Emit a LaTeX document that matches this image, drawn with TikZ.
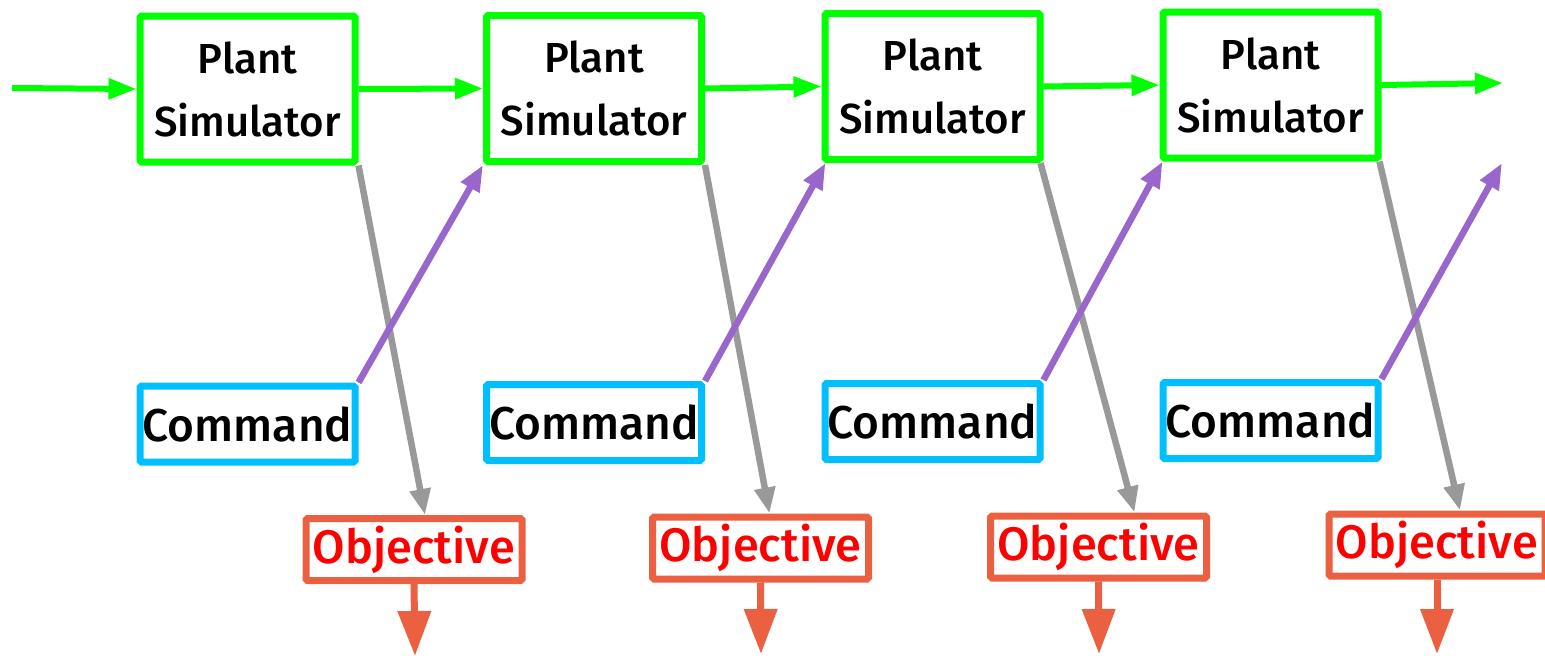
\documentclass[tikz,border=0pt]{standalone}
\usepackage{fontspec}
\setmainfont{Fira Sans}[UprightFont={* Medium}]
\usetikzlibrary{arrows.meta,calc}
\definecolor{pgreen}{HTML}{00FF00}
\definecolor{cblue}{HTML}{00BFFF}
\definecolor{opurple}{HTML}{9966CC}
\definecolor{ogray}{HTML}{999999}
\definecolor{oorange}{HTML}{EA6040}
\definecolor{ored}{HTML}{FF0000}
\newcommand{\lowered}[2]{\raisebox{-#1}{#2}}
\newcommand{\plantlabel}{\lowered{3pt}{\parbox{210pt}{\centering\fontsize{42}{63}\selectfont Plant\\Simulator}}}
\tikzset{
  plantbox/.style={draw=pgreen, line width=7pt, rounded corners=1.5pt, minimum width=215pt, minimum height=146pt, inner sep=0pt},
  cmdbox/.style={draw=cblue, line width=7pt, rounded corners=1.5pt, minimum width=215pt, minimum height=76pt, inner sep=0pt, font=\fontsize{46}{50}\selectfont},
  objbox/.style={draw=oorange, line width=7pt, rounded corners=1.5pt, minimum width=216pt, minimum height=62pt, inner sep=0pt, text=ored, font=\fontsize{47}{50}\selectfont},
  garrow/.style={draw=pgreen, line width=6pt, -{Triangle[length=28pt,width=20pt]}},
  grayarrow/.style={draw=ogray, line width=6.5pt, -{Triangle[length=26pt,width=20pt]}},
  parrow/.style={draw=opurple, line width=6.5pt, -{Triangle[length=26pt,width=20pt]}},
  oarrow/.style={draw=oorange, line width=7pt, -{Triangle[length=45pt,width=32pt]}},
}
\begin{document}
\begin{tikzpicture}[x=1pt,y=-1pt]
\useasboundingbox (0,0) rectangle (1545,656);
% plant boxes
\node[plantbox] (p1) at (247.5,89) {\plantlabel};
\node[plantbox] (p2) at (594,88.5) {\plantlabel};
\node[plantbox] (p3) at (932.5,86.5) {\plantlabel};
\node[plantbox] (p4) at (1270.5,85) {\plantlabel};
% command boxes
\node[cmdbox] (c1) at (247.5,424) {\lowered{3pt}{Command}};
\node[cmdbox] (c2) at (594,422.5) {\lowered{3pt}{Command}};
\node[cmdbox] (c3) at (932.5,421.5) {\lowered{3pt}{Command}};
\node[cmdbox] (c4) at (1270.5,420.5) {\lowered{3pt}{Command}};
% objective boxes
\node[objbox] (o1) at (414,549.5) {\lowered{4pt}{Objective}};
\node[objbox] (o2) at (760.5,548) {\lowered{4pt}{Objective}};
\node[objbox] (o3) at (1098.5,547) {\lowered{4pt}{Objective}};
\node[objbox] (o4) at (1437,545) {\lowered{4pt}{Objective}};
% free ends
\coordinate (in) at (12,88);
\coordinate (out) at (1503,83);
\coordinate (pfree) at (1502,163);
\coordinate (d1) at (415,656);
\coordinate (d2) at (761,654);
\coordinate (d3) at (1099,654);
\coordinate (d4) at (1437,654);
% green chain
\draw[garrow] (in) -- (p1.west);
\draw[garrow] (p1.east) -- (p2.west);
\draw[garrow] (p2.east) -- (p3.west);
\draw[garrow] (p3.east) -- (p4.west);
\draw[garrow] (p4.east) -- (out);
% gray
\draw[grayarrow] (p1.south east) -- ($(o1.north)+(11,0)$);
\draw[grayarrow] (p2.south east) -- ($(o2.north)+(9,0)$);
\draw[grayarrow] ($(p3.south east)+(-3,0)$) -- ($(o3.north)+(36,0)$);
\draw[grayarrow] ($(p4.south east)+(-2,0)$) -- ($(o4.north)+(23,0)$);
% purple
\draw[parrow] (c1.north east) -- (p2.south west);
\draw[parrow] (c2.north east) -- ($(p3.south west)+(4,0)$);
\draw[parrow] (c3.north east) -- ($(p4.south west)+(3,0)$);
\draw[parrow] (c4.north east) -- (pfree);
% orange
\draw[oarrow] (o1.south) -- (d1);
\draw[oarrow] (o2.south) -- (d2);
\draw[oarrow] (o3.south) -- (d3);
\draw[oarrow] (o4.south) -- (d4);
\end{tikzpicture}
\end{document}
